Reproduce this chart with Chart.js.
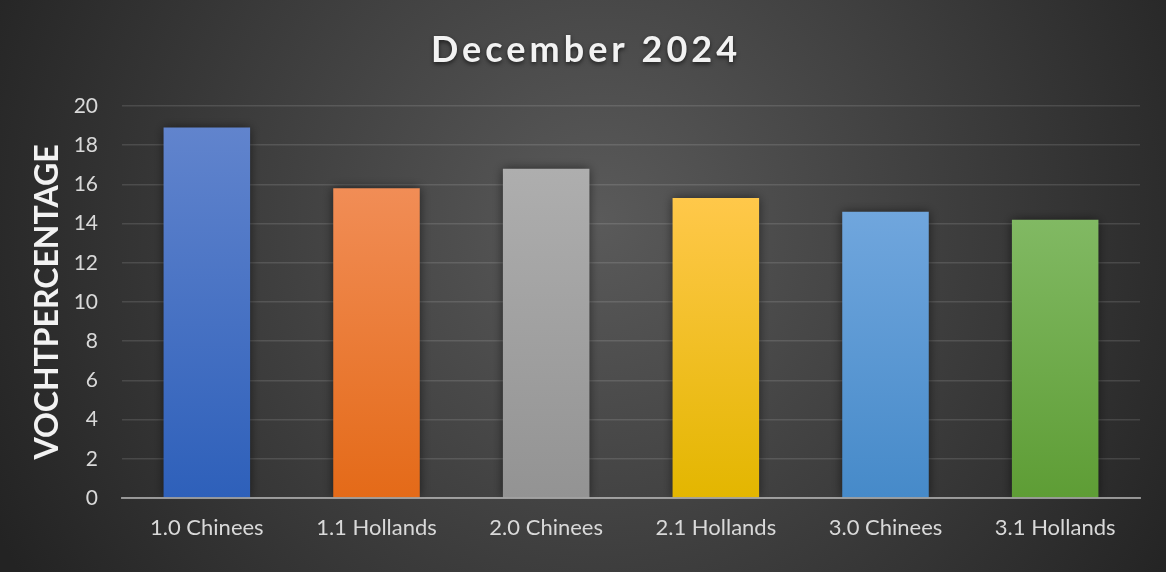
<!DOCTYPE html>
<html lang="nl">
<head>
    <meta charset="UTF-8">
    <title>December 2024</title>
    <style>
        html, body {
            margin: 0;
            padding: 0;
            background: #262626;
        }
        #chartBox {
            width: 1166px;
            height: 572px;
        }
    </style>
</head>
<body>
    <div id="chartBox">
        <canvas id="vochtChart"></canvas>
    </div>

    <script src="https://cdn.jsdelivr.net/npm/chart.js"></script>
    <script>
        // Vochtmetingen per partij
        const categorieen = ['1.0 Chinees', '1.1 Hollands', '2.0 Chinees', '2.1 Hollands', '3.0 Chinees', '3.1 Hollands'];
        const vochtWaarden = [18.9, 15.8, 16.8, 15.3, 14.6, 14.2];
        const yTicks = [0, 2, 4, 6, 8, 10, 12, 14, 16, 18, 20];

        // kleuren boven / onder per balk
        const kleurBoven = ['#6184cd', '#f18d56', '#aeaeae', '#ffc84a', '#70a6dd', '#81b963'];
        const kleurOnder = ['#2e60ba', '#e46a18', '#939393', '#e3b600', '#468ac9', '#5e9d35'];

        const titel = 'December 2024';

        function balkKleur(ctx) {
            const chart = ctx.chart;
            const i = ctx.dataIndex;
            if (!chart.chartArea || i === undefined) return kleurBoven[i] || '#888';
            const y = chart.scales.y;
            const top = y.getPixelForValue(vochtWaarden[i]);
            const bottom = y.getPixelForValue(0);
            const g = chart.ctx.createLinearGradient(0, top, 0, bottom);
            g.addColorStop(0, kleurBoven[i]);
            g.addColorStop(1, kleurOnder[i]);
            return g;
        }

        // achtergrond + titel
        const achtergrond = {
            id: 'achtergrond',
            beforeDraw(chart) {
                const c = chart.ctx;
                const w = chart.width, h = chart.height;
                c.save();
                const g = c.createRadialGradient(600, 220, 0, 600, 220, 680);
                g.addColorStop(0, '#5a5a5a');
                g.addColorStop(1, '#232323');
                c.fillStyle = g;
                c.fillRect(0, 0, w, h);
                c.restore();
            },
            afterDraw(chart) {
                const c = chart.ctx;
                c.save();
                c.font = 'bold 36px Lato';
                c.letterSpacing = '4px';
                c.textAlign = 'center';
                c.textBaseline = 'alphabetic';
                c.shadowColor = 'rgba(0,0,0,0.6)';
                c.shadowBlur = 4;
                c.shadowOffsetY = 2;
                c.fillStyle = '#f2f2f2';
                c.fillText(titel, 586, 62);
                c.restore();
            }
        };

        // schaduw onder de balken
        const balkSchaduw = {
            id: 'balkSchaduw',
            beforeDatasetDraw(chart) {
                const c = chart.ctx;
                c.save();
                c.shadowColor = 'rgba(0,0,0,0.55)';
                c.shadowBlur = 10;
            },
            afterDatasetDraw(chart) {
                chart.ctx.restore();
            }
        };

        new Chart(document.getElementById('vochtChart'), {
            type: 'bar',
            data: {
                labels: categorieen,
                datasets: [{
                    label: 'Vochtpercentage',
                    data: vochtWaarden,
                    backgroundColor: balkKleur,
                    borderWidth: 0,
                    categoryPercentage: 1,
                    barPercentage: 0.51
                }]
            },
            options: {
                responsive: true,
                maintainAspectRatio: false,
                animation: false,
                layout: {
                    padding: { top: 106, right: 26, left: 0, bottom: 0 }
                },
                plugins: {
                    legend: { display: false },
                    tooltip: { enabled: false }
                },
                scales: {
                    x: {
                        afterFit(scale) { scale.height = 74; },
                        grid: { display: false, drawTicks: false },
                        border: { display: true, color: 'rgba(210,210,210,0.6)', width: 2, z: 1 },
                        ticks: {
                            color: '#d9d9d9',
                            padding: 17,
                            font: { family: 'Lato', size: 22 }
                        }
                    },
                    y: {
                        min: 0,
                        max: 20,
                        afterFit(scale) { scale.width = 122; },
                        afterBuildTicks(scale) {
                            scale.ticks = yTicks.map(v => ({ value: v }));
                        },
                        grid: { color: 'rgba(255,255,255,0.12)', lineWidth: 1.5, drawTicks: false },
                        border: { display: false },
                        ticks: {
                            color: '#d9d9d9',
                            padding: 24,
                            font: { family: 'Lato', size: 21 }
                        },
                        title: {
                            display: true,
                            text: 'VOCHTPERCENTAGE',
                            color: '#f2f2f2',
                            padding: { top: 28, bottom: 0 },
                            font: { family: 'Lato', size: 32, weight: 'bold' }
                        }
                    }
                }
            },
            plugins: [achtergrond, balkSchaduw]
        });
    </script>
</body>
</html>
